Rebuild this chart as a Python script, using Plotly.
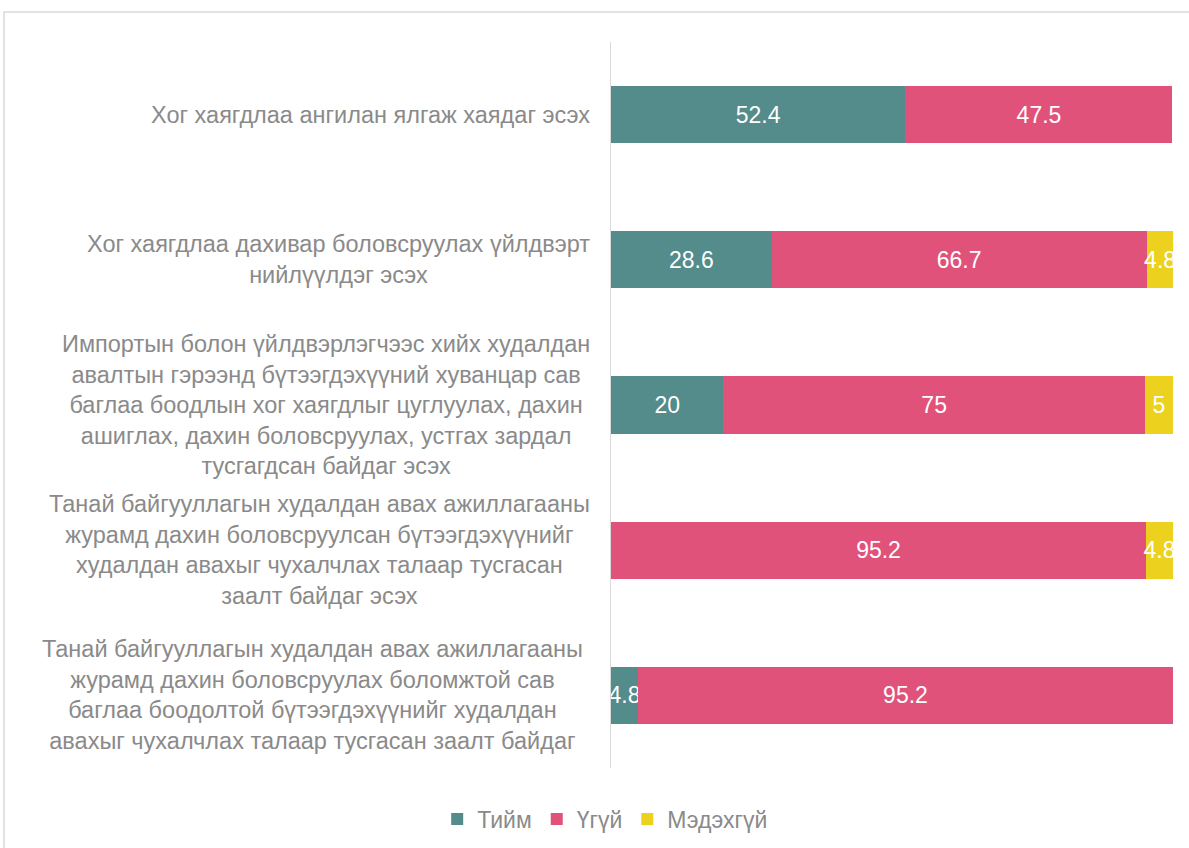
import plotly.graph_objects as go

categories = [
    "Хог хаягдлаа ангилан ялгаж хаядаг эсэх",
    "Хог хаягдлаа дахивар боловсруулах үйлдвэрт<br>нийлүүлдэг эсэх",
    "Импортын болон үйлдвэрлэгчээс хийх худалдан<br>авалтын гэрээнд бүтээгдэхүүний хуванцар сав<br>баглаа боодлын хог хаягдлыг цуглуулах, дахин<br>ашиглах, дахин боловсруулах, устгах зардал<br>тусгагдсан байдаг эсэх",
    "Танай байгууллагын худалдан авах ажиллагааны<br>журамд дахин боловсруулсан бүтээгдэхүүнийг<br>худалдан авахыг чухалчлах талаар тусгасан<br>заалт байдаг эсэх",
    "Танай байгууллагын худалдан авах ажиллагааны<br>журамд дахин боловсруулах боломжтой сав<br>баглаа боодолтой бүтээгдэхүүнийг худалдан<br>авахыг чухалчлах талаар тусгасан заалт байдаг",
]
series_names = ["Тийм", "Үгүй", "Мэдэхгүй"]
tiim = [52.4, 28.6, 20, None, 4.8]
ugui = [47.5, 66.7, 75, 95.2, 95.2]
medehgui = [None, 4.8, 5, 4.8, None]
colors = ["#548B8B", "#E1527B", "#ECD21F"]

FONT = "Liberation Sans, Arial, sans-serif"
GRAY = "#8a8a8a"
FS = 23
LFS = 23.5

fig = go.Figure()
for name, vals, col in zip(series_names, [tiim, ugui, medehgui], colors):
    fig.add_trace(go.Bar(
        y=categories, x=vals, name=name, orientation="h",
        marker=dict(color=col, line=dict(width=0)),
        texttemplate="%{x}", textposition="inside", insidetextanchor="middle",
        textangle=0, constraintext="none", cliponaxis=True,
        textfont=dict(color="white", size=FS, family=FONT),
    ))

W, H = 1189, 848
L, R, T, B = 611, 16, 42, 80
pw, ph = W - L - R, H - T - B

fig.update_layout(
    width=W, height=H, barmode="stack", bargap=0.607,
    margin=dict(l=L, r=R, t=T, b=B, autoexpand=False),
    paper_bgcolor="white", plot_bgcolor="white",
    font=dict(family=FONT, color=GRAY, size=FS),
    legend=dict(orientation="h", xref="container", yref="container",
                x=0.509, xanchor="center", y=1 - 819 / H, yanchor="middle",
                traceorder="normal", font=dict(size=FS, color=GRAY),
                itemwidth=30),
    xaxis=dict(range=[0, 100], visible=False, showgrid=False, zeroline=False),
    yaxis=dict(autorange="reversed", showticklabels=False, ticks="",
               showline=True, linecolor="#d9d9d9", linewidth=1,
               showgrid=False, zeroline=False),
)

shifts = [-19, -19, -19, -19, -26]
for c, s in zip(categories, shifts):
    fig.add_annotation(x=0, xref="paper", y=c, yref="y", text=c,
                       xanchor="right", yanchor="middle", align="center",
                       xshift=s, showarrow=False,
                       font=dict(size=LFS, color=GRAY, family=FONT))

# outer frame
fig.add_shape(type="rect", xref="paper", yref="paper",
              x0=(4 - L) / pw, x1=(W + 5 - L) / pw,
              y0=(H - B - (H + 5)) / ph, y1=(H - B - 12) / ph,
              line=dict(color="#d9d9d9", width=1.5), fillcolor="rgba(0,0,0,0)",
              layer="below")

fig.write_html("out.html", config={"displayModeBar": False},
               post_script="document.body.style.margin='0';")
